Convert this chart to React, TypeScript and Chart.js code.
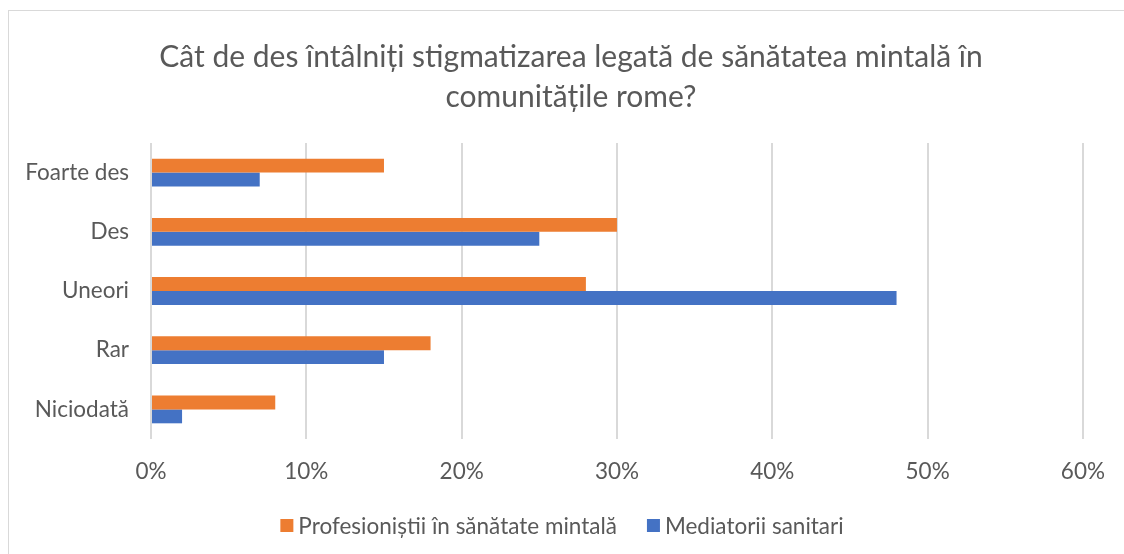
import React, { useEffect, useRef } from "react";
import { Chart, registerables } from "chart.js";

Chart.register(...registerables);

const categories = ["Foarte des", "Des", "Uneori", "Rar", "Niciodată"];
const profesionisti = [15, 30, 28, 18, 8];
const mediatori = [7, 25, 48, 15, 2];
const seriesNames = ["Profesioniștii în sănătate mintală", "Mediatorii sanitari"];
const seriesColors = ["#ED7D31", "#4472C4"];
const titleLines = [
  "Cât de des întâlniți stigmatizarea legată de sănătatea mintală în",
  "comunitățile rome?",
];
const xTicks = [0, 10, 20, 30, 40, 50, 60];

const FONT = "Lato, 'Open Sans', sans-serif";
const TEXT = "#595959";
const GRID = "#d9d9d9";
const LABEL_SIZE = 22.5;
const TITLE_SIZE = 30;

const frame = {
  id: "frame",
  beforeDraw(chart: any) {
    const ctx = chart.ctx;
    ctx.save();
    ctx.fillStyle = "#ffffff";
    ctx.fillRect(0, 0, chart.width, chart.height);
    ctx.strokeStyle = GRID;
    ctx.lineWidth = 1;
    ctx.strokeRect(8.5, 10.5, chart.width, chart.height);
    ctx.restore();
  },
};

const customTitle = {
  id: "customTitle",
  afterDraw(chart: any) {
    const ctx = chart.ctx;
    ctx.save();
    ctx.font = `${TITLE_SIZE}px ${FONT}`;
    ctx.fillStyle = TEXT;
    ctx.textAlign = "center";
    ctx.textBaseline = "middle";
    const cx = 571;
    titleLines.forEach((line, i) => {
      ctx.fillText(line, cx, 57 + i * 40);
    });
    ctx.restore();
  },
};

const customLegend = {
  id: "customLegend",
  afterDraw(chart: any) {
    const ctx = chart.ctx;
    ctx.save();
    ctx.font = `${LABEL_SIZE}px ${FONT}`;
    ctx.textBaseline = "middle";
    ctx.textAlign = "left";
    const box = 13;
    const gapText = 5;
    const gapItem = 30;
    const items = chart.data.datasets.map((d: any) => ({
      label: d.label as string,
      color: d.backgroundColor as string,
      w: ctx.measureText(d.label).width,
    }));
    let total = 0;
    items.forEach((it: any, i: number) => {
      total += box + gapText + it.w + (i < items.length - 1 ? gapItem : 0);
    });
    let x = chart.width / 2 - total / 2;
    const cy = 525.5;
    items.forEach((it: any) => {
      ctx.fillStyle = it.color;
      ctx.fillRect(x, cy - box / 2, box, box);
      x += box + gapText;
      ctx.fillStyle = TEXT;
      ctx.fillText(it.label, x, cy + 1);
      x += it.w + gapItem;
    });
    ctx.restore();
  },
};

export default function App() {
  const ref = useRef<HTMLCanvasElement | null>(null);
  useEffect(() => {
    if (!ref.current) return;
    const chart = new Chart(ref.current, {
      type: "bar",
      data: {
        labels: categories,
        datasets: [
          {
            label: seriesNames[0],
            data: profesionisti,
            backgroundColor: seriesColors[0],
            categoryPercentage: 0.47,
            barPercentage: 1,
          },
          {
            label: seriesNames[1],
            data: mediatori,
            backgroundColor: seriesColors[1],
            categoryPercentage: 0.47,
            barPercentage: 1,
          },
        ],
      },
      options: {
        indexAxis: "y",
        animation: false,
        responsive: false,
        maintainAspectRatio: false,
        layout: { padding: { left: 0, right: 30, top: 143, bottom: 55 } },
        plugins: {
          title: { display: false },
          legend: { display: false },
          tooltip: { enabled: false },
        },
        scales: {
          x: {
            min: 0,
            max: 60,
            afterBuildTicks: (scale: any) => {
              scale.ticks = xTicks.map((v) => ({ value: v }));
            },
            afterFit: (scale: any) => {
              scale.height = 60;
            },
            grid: { color: GRID, drawTicks: false, lineWidth: 2 },
            border: { display: false },
            ticks: {
              color: TEXT,
              font: { family: FONT, size: LABEL_SIZE },
              padding: 19,
              callback: (v: any) => v + "%",
            },
          },
          y: {
            afterFit: (scale: any) => {
              scale.width = 151;
            },
            grid: { display: false, drawTicks: false },
            border: { display: false },
            ticks: {
              color: TEXT,
              font: { family: FONT, size: LABEL_SIZE },
              padding: 22,
            },
          },
        },
      },
      plugins: [frame, customTitle, customLegend],
    });
    return () => chart.destroy();
  }, []);
  return (
    <div style={{ position: "fixed", left: 0, top: 0, width: 1124, height: 554, background: "#fff" }}>
      <canvas ref={ref} width={1124} height={554} style={{ display: "block" }} />
    </div>
  );
}
